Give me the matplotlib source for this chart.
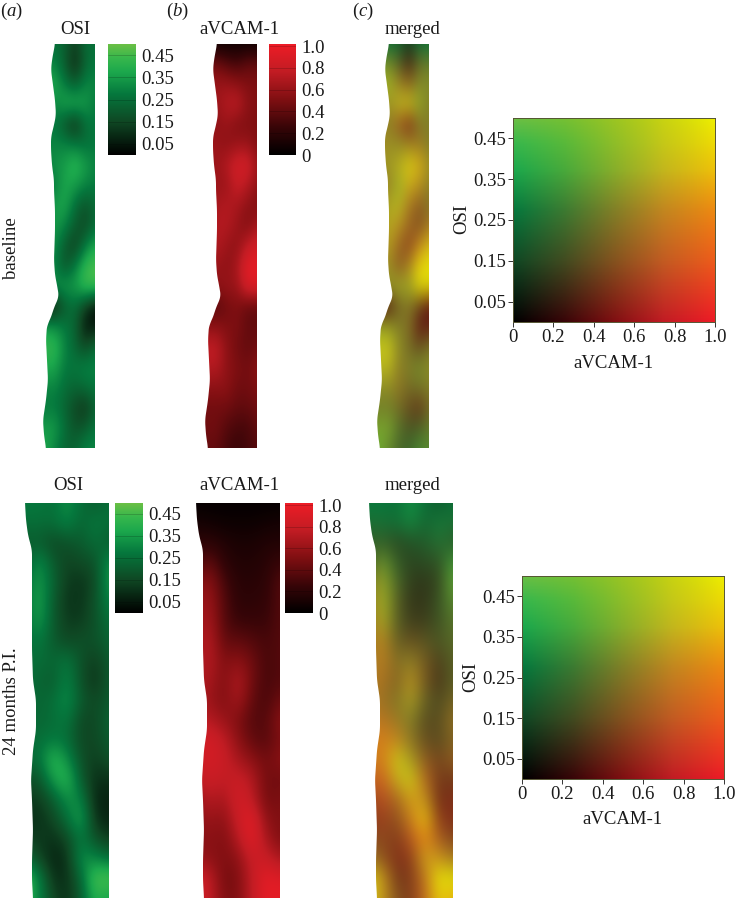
import numpy as np
import matplotlib
matplotlib.use("Agg")
import matplotlib.pyplot as plt
from matplotlib.colors import LinearSegmentedColormap
from matplotlib.patches import Polygon

plt.rcParams['font.family'] = ['Liberation Serif', 'DejaVu Serif']
plt.rcParams['mathtext.fontset'] = 'custom'
plt.rcParams['mathtext.it'] = 'Liberation Serif:italic'
plt.rcParams['mathtext.rm'] = 'Liberation Serif'

W, H = 735, 900

osi_base = [
    [.50, .50, .45, .25, .50, .50],
    [.60, .60, .40, .15, .45, .55],
    [.80, .75, .55, .40, .60, .60],
    [.70, .60, .75, .80, .70, .55],
    [.55, .55, .35, .15, .50, .55],
    [.60, .60, .60, .55, .50, .55],
    [.60, .65, .70, .85, .70, .60],
    [.55, .55, .75, .70, .60, .55],
    [.60, .70, .75, .50, .35, .50],
    [.60, .70, .60, .40, .30, .50],
    [.60, .65, .40, .25, .55, .75],
    [.60, .60, .35, .55, .85, .95],
    [.60, .65, .70, .70, .90, .90],
    [.00, .10, .40, .50, .25, .05],
    [.70, .65, .55, .45, .10, .10],
    [.85, .85, .60, .45, .30, .50],
    [.75, .75, .55, .55, .60, .60],
    [.60, .60, .50, .45, .50, .55],
    [.55, .55, .45, .30, .20, .45],
    [.70, .70, .50, .35, .40, .55],
    [.75, .60, .45, .45, .60, .60],
]
vcam_base = [
    [.05, .05, .05, .05, .05, .05],
    [.45, .45, .35, .30, .40, .40],
    [.60, .60, .60, .55, .50, .50],
    [.60, .60, .70, .75, .55, .50],
    [.55, .55, .60, .50, .50, .50],
    [.65, .60, .55, .60, .60, .50],
    [.60, .60, .70, .85, .85, .60],
    [.60, .60, .60, .80, .70, .55],
    [.60, .65, .70, .65, .55, .50],
    [.60, .70, .70, .60, .50, .65],
    [.60, .70, .60, .55, .75, .85],
    [.60, .60, .55, .65, .95, .95],
    [.60, .55, .60, .60, .90, .90],
    [.35, .35, .45, .50, .40, .40],
    [.55, .55, .50, .50, .40, .40],
    [.75, .75, .55, .45, .40, .45],
    [.70, .70, .55, .50, .45, .55],
    [.55, .55, .55, .45, .45, .50],
    [.45, .45, .45, .40, .40, .45],
    [.45, .45, .35, .30, .30, .40],
    [.40, .40, .30, .25, .30, .35],
]
osi_24 = [
    [.55, .55, .50, .65, .50, .40, .50],
    [.50, .50, .50, .60, .45, .55, .50],
    [.40, .40, .30, .35, .40, .50, .40],
    [.40, .65, .40, .28, .32, .35, .65],
    [.50, .70, .45, .25, .22, .30, .70],
    [.50, .75, .40, .22, .22, .35, .60],
    [.50, .70, .40, .25, .25, .35, .50],
    [.50, .55, .40, .30, .35, .35, .45],
    [.50, .50, .45, .55, .35, .25, .40],
    [.50, .45, .40, .60, .35, .20, .40],
    [.50, .45, .50, .65, .40, .30, .40],
    [.50, .45, .50, .55, .30, .30, .45],
    [.50, .50, .55, .50, .30, .30, .40],
    [.50, .50, .85, .65, .35, .25, .35],
    [.35, .35, .70, .85, .40, .20, .20],
    [.25, .25, .40, .65, .60, .15, .15],
    [.20, .20, .30, .50, .75, .20, .15],
    [.25, .25, .20, .30, .55, .35, .25],
    [.50, .30, .15, .20, .65, .60, .50],
    [.90, .60, .20, .20, .45, .95, .95],
    [.85, .60, .30, .20, .40, .80, .70],
]
vcam_24 = [
    [.02, .02, .02, .02, .02, .02, .02],
    [.10, .08, .06, .06, .06, .08, .10],
    [.20, .20, .15, .12, .12, .15, .15],
    [.30, .40, .20, .15, .15, .18, .25],
    [.50, .55, .30, .18, .18, .20, .35],
    [.60, .60, .35, .20, .20, .22, .35],
    [.60, .65, .35, .25, .25, .25, .35],
    [.65, .70, .40, .40, .35, .30, .35],
    [.65, .70, .50, .55, .45, .30, .35],
    [.70, .65, .50, .70, .45, .30, .35],
    [.65, .60, .50, .65, .40, .30, .45],
    [.75, .70, .60, .50, .35, .35, .55],
    [.85, .85, .75, .55, .40, .35, .50],
    [.80, .85, .80, .65, .55, .45, .55],
    [.75, .80, .75, .80, .70, .45, .45],
    [.60, .70, .65, .85, .75, .45, .50],
    [.55, .60, .55, .80, .95, .55, .50],
    [.50, .55, .50, .70, .95, .65, .50],
    [.60, .55, .50, .55, .80, .80, .65],
    [.85, .75, .45, .50, .75, .95, .90],
    [.85, .75, .50, .50, .75, .95, .95],
]

# left outline of the vessel (y px, x px) for the OSI strip, other strips are shifted
edge_base = [(44, 55), (60, 52), (70, 51), (85, 53), (100, 55), (115, 56), (125, 54), (137, 51),
             (150, 51), (165, 52), (180, 54), (190, 54), (210, 55), (230, 55), (260, 54), (275, 55),
             (285, 57), (297, 59), (305, 55), (320, 50), (325, 47), (340, 46), (360, 47), (380, 48),
             (400, 46), (420, 43), (435, 44), (448, 46)]
edge_24 = [(503, 25), (520, 26), (535, 28), (550, 32), (600, 32), (650, 32), (680, 33), (700, 36),
           (730, 36), (750, 33), (780, 31), (800, 32), (830, 33), (860, 32), (880, 32), (898, 33)]

osi_ticks = [0.05, 0.15, 0.25, 0.35, 0.45]
vcam_ticks = [0, 0.2, 0.4, 0.6, 0.8, 1.0]
vcam_labels = ['0', '0.2', '0.4', '0.6', '0.8', '1.0']
osi_labels = ['0.05', '0.15', '0.25', '0.35', '0.45']

FS = 13.5
INK = '#1a1a1a'

green_cm = LinearSegmentedColormap.from_list('osi', [
    (0, (0, 0, 0)), (.3, (.06, .28, .14)), (.55, (.02, .47, .24)),
    (.75, (.11, .66, .30)), (.88, (.22, .72, .30)), (1, (.42, .75, .27))])
red_cm = LinearSegmentedColormap.from_list('vcam', [
    (0, (0, 0, 0)), (.25, (.22, .02, .03)), (.5, (.50, .06, .07)),
    (.75, (.76, .11, .14)), (1, (.93, .11, .15))])


def merge(o, v):
    g = green_cm(o)
    r = red_cm(v)
    rgb = np.zeros(o.shape + (3,))
    rgb[..., 0] = r[..., 0] + g[..., 0] * (1 - v) ** 2
    rgb[..., 1] = g[..., 1] * (1 + .25 * v ** 3 * o ** 3) + r[..., 1] * (1 - o)
    rgb[..., 2] = g[..., 2] * (1 - v) + r[..., 2] * (1 - o)
    return np.clip(rgb, 0, 1)


fig = plt.figure(figsize=(W / 100, H / 100), dpi=100)


def px_axes(x0, y0, x1, y1):
    return fig.add_axes([x0 / W, 1 - y1 / H, (x1 - x0) / W, (y1 - y0) / H])


canvas = px_axes(0, 0, W, H)
canvas.axis('off')


def smooth_edge(edge):
    # round off the hand-read outline so it has no corners
    ys = np.array([p[0] for p in edge], dtype=float)
    xs = np.array([p[1] for p in edge], dtype=float)
    yy = np.arange(ys[0], ys[-1] + 1)
    xx = np.interp(yy, ys, xs)
    pad = 5
    padded = np.r_[np.full(pad, xx[0]), xx, np.full(pad, xx[-1])]
    return yy, np.convolve(padded, np.ones(2 * pad + 1) / (2 * pad + 1), mode='valid')


def strip(data, edge, x_left, x_right, shift, **kw):
    data = np.asarray(data)
    yy, xx = smooth_edge(edge)
    nr, nc = data.shape[:2]
    dx = (x_right - x_left) / (nc - 1)
    dy = (yy[-1] - yy[0]) / (nr - 1)
    im = canvas.imshow(data, extent=(x_left + shift - dx / 2, x_right + shift + dx / 2,
                                     yy[-1] + dy / 2, yy[0] - dy / 2),
                       aspect='auto', interpolation='bicubic', **kw)
    pts = list(zip(xx + shift, yy)) + [(x_right + shift, yy[-1]), (x_right + shift, yy[0])]
    poly = Polygon(pts, closed=True, transform=canvas.transData, fc='none', ec='none')
    canvas.add_patch(poly)
    im.set_clip_path(poly)


o = np.array(osi_base)
v = np.array(vcam_base)
strip(o, edge_base, 44, 95, 0, cmap=green_cm, vmin=0, vmax=1)
strip(v, edge_base, 44, 95, 162, cmap=red_cm, vmin=0, vmax=1)
strip(merge(o, v), edge_base, 44, 95, 334)

o = np.array(osi_24)
v = np.array(vcam_24)
strip(o, edge_24, 25, 109, 0, cmap=green_cm, vmin=0, vmax=1)
strip(v, edge_24, 25, 109, 171, cmap=red_cm, vmin=0, vmax=1)
strip(merge(o, v), edge_24, 25, 109, 344)

canvas.set_xlim(0, W)
canvas.set_ylim(H, 0)


def colorbar(x0, y0, x1, y1, cmap, top, ticks, labels):
    ax = px_axes(x0, y0, x1, y1)
    grad = np.linspace(1, 0, 256).reshape(-1, 1)
    ax.imshow(grad, cmap=cmap, vmin=0, vmax=1, aspect='auto', extent=(0, 1, 0, top))
    ax.hlines(ticks, 0, 1, color='k', lw=0.6, alpha=0.2)
    ax.set_xlim(0, 1)
    ax.set_ylim(0, top)
    ax.set_xticks([])
    ax.yaxis.tick_right()
    ax.set_yticks(ticks)
    ax.set_yticklabels(labels, fontsize=FS, color=INK)
    ax.tick_params(axis='y', length=0, pad=4)
    for s in ax.spines.values():
        s.set_visible(False)


colorbar(108, 44, 136, 155, green_cm, 0.5, osi_ticks, osi_labels)
colorbar(269, 44, 296, 155, red_cm, 1.02, vcam_ticks, vcam_labels)
colorbar(115, 503, 143, 613, green_cm, 0.5, osi_ticks, osi_labels)
colorbar(285, 503, 313, 613, red_cm, 1.02, vcam_ticks, vcam_labels)


def key_map(x0, y0, x1, y1):
    ax = px_axes(x0, y0, x1, y1)
    xx, yy = np.meshgrid(np.linspace(0, 1, 200), np.linspace(1, 0, 200))
    ax.imshow(merge(yy, xx), extent=(0, 1, 0, 0.5), aspect='auto')
    ax.set_xlim(0, 1)
    ax.set_ylim(0, 0.5)
    ax.set_xticks(vcam_ticks)
    ax.set_xticklabels(vcam_labels, fontsize=FS, color=INK)
    ax.set_yticks(osi_ticks)
    ax.set_yticklabels(osi_labels, fontsize=FS, color=INK)
    ax.tick_params(length=3.5, width=0.7, color='#333333', pad=1.5)
    for s in ax.spines.values():
        s.set_linewidth(0.7)
        s.set_color('#555533')
    canvas.text((x0 + x1) / 2 - 1, y1 + 41, 'aVCAM-1', ha='center', va='center', fontsize=FS, color=INK)
    canvas.text(x0 - 51, (y0 + y1) / 2 - 1, 'OSI', ha='center', va='center', rotation=90, fontsize=FS, color=INK)


key_map(513, 118, 715, 322)
key_map(522, 576, 724, 779)

for x, s in [(11, 'a'), (177, 'b'), (363, 'c')]:
    canvas.text(x, 11, r'($\mathit{' + s + r'}$)', ha='center', va='center', fontsize=FS, color=INK)
for x, y, s in [(75, 29, 'OSI'), (239, 29, 'aVCAM-1'), (412, 29, 'merged'),
                (68, 485, 'OSI'), (239, 485, 'aVCAM-1'), (412, 485, 'merged')]:
    canvas.text(x, y, s, ha='center', va='center', fontsize=FS, color=INK)
canvas.text(12, 248, 'baseline', rotation=90, ha='center', va='center', fontsize=FS, color=INK)
canvas.text(12, 701, '24 months P.I.', rotation=90, ha='center', va='center', fontsize=FS, color=INK)

fig.savefig('out.png', dpi=100)
